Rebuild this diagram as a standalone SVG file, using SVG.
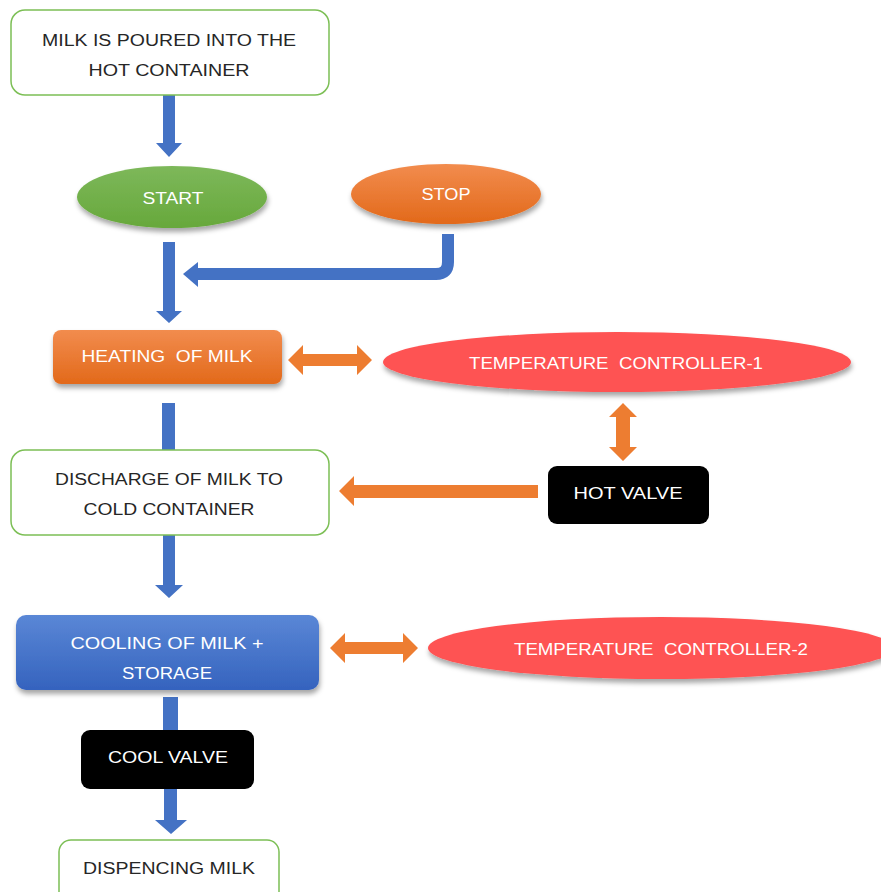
<svg xmlns="http://www.w3.org/2000/svg" width="881" height="892" viewBox="0 0 881 892">
<defs>
<style>
.t{font-family:"Liberation Sans","Open Sans",Arial,sans-serif;font-size:16px;text-anchor:middle;dominant-baseline:central;white-space:pre}
.dk{fill:#262626}
.wt{fill:#ffffff}
.wbox{fill:#ffffff;stroke:#7CBF55;stroke-width:1.5}
.blue{fill:#4472C4}
.orng{fill:#ED7D31}
</style>
<linearGradient id="gGreen" x1="0" y1="0" x2="0" y2="1"><stop offset="0" stop-color="#7DB85A"/><stop offset="1" stop-color="#67A83B"/></linearGradient>
<linearGradient id="gOrange" x1="0" y1="0" x2="0" y2="1"><stop offset="0" stop-color="#F28C4E"/><stop offset="1" stop-color="#E2691A"/></linearGradient>
<linearGradient id="gBlue" x1="0" y1="0" x2="0" y2="1"><stop offset="0" stop-color="#5A87D6"/><stop offset="1" stop-color="#3563BE"/></linearGradient>
<filter id="sh" x="-20%" y="-30%" width="140%" height="170%"><feDropShadow dx="1" dy="4" stdDeviation="2.5" flood-color="#000" flood-opacity="0.35"/></filter>
</defs>
<rect width="881" height="892" fill="#ffffff"/>

<g id="connectors">
<path class="blue" d="M163,95 H175 V143 H182 L169,157 L156,143 H163 Z"/>
<path class="blue" d="M163,242 H175 V311 H182 L169,323 L156,311 H163 Z"/>
<path d="M448,234 V262 Q448,274 436,274 H196" fill="none" stroke="#4472C4" stroke-width="12"/>
<path class="blue" d="M183,274 L198,262 L198,287 Z"/>
<rect class="blue" x="162" y="403" width="13" height="48"/>
<path class="blue" d="M163,534 H175 V585 H183 L169,598 L155,585 H163 Z"/>
<rect class="blue" x="163" y="697" width="15" height="34"/>
<path class="blue" d="M164,788 H177 V820 H187 L171,834 L155,820 H164 Z"/>
<path class="orng" d="M288,360 L303,345 V354 H357 V345 L372,360 L357,375 V366 H303 V375 Z"/>
<path class="orng" d="M623,403 L637,417 H630 V447 H637 L623,461 L609,447 H616 V417 H609 Z"/>
<path class="orng" d="M339,491 L354,476 V485 H538 V498 H354 V506 Z"/>
<path class="orng" d="M330,648 L345,633 V642 H403 V633 L418,648 L403,663 V654 H345 V663 Z"/>
</g>

<g id="n1">
<rect class="wbox" x="11" y="10" width="318" height="85" rx="14"/>
<text class="t dk" x="169" y="40" textLength="254" lengthAdjust="spacingAndGlyphs">MILK IS POURED INTO THE</text>
<text class="t dk" x="169" y="70" textLength="161" lengthAdjust="spacingAndGlyphs">HOT CONTAINER</text>
</g>

<g id="start">
<ellipse cx="172" cy="197" rx="95" ry="31" fill="url(#gGreen)" filter="url(#sh)"/>
<text class="t wt" x="173" y="198" textLength="61" lengthAdjust="spacingAndGlyphs">START</text>
</g>

<g id="stop">
<ellipse cx="446" cy="194" rx="95" ry="30" fill="url(#gOrange)" filter="url(#sh)"/>
<text class="t wt" x="446" y="194" textLength="49" lengthAdjust="spacingAndGlyphs">STOP</text>
</g>

<g id="heating">
<rect x="53" y="330" width="229" height="54" rx="8" fill="url(#gOrange)" filter="url(#sh)"/>
<text class="t wt" x="167" y="356" textLength="171" lengthAdjust="spacingAndGlyphs" xml:space="preserve">HEATING  OF MILK</text>
</g>

<g id="tc1">
<ellipse cx="617" cy="362" rx="234" ry="30" fill="#FE5252" filter="url(#sh)"/>
<text class="t wt" x="616" y="363" textLength="294" lengthAdjust="spacingAndGlyphs" xml:space="preserve">TEMPERATURE  CONTROLLER-1</text>
</g>

<g id="discharge">
<rect class="wbox" x="11" y="450" width="318" height="85" rx="14"/>
<text class="t dk" x="169" y="479" textLength="228" lengthAdjust="spacingAndGlyphs">DISCHARGE OF MILK TO</text>
<text class="t dk" x="169" y="509" textLength="171" lengthAdjust="spacingAndGlyphs">COLD CONTAINER</text>
</g>

<g id="hotvalve">
<rect x="548" y="466" width="161" height="58" rx="9" fill="#000000"/>
<text class="t wt" x="628" y="493" textLength="109" lengthAdjust="spacingAndGlyphs">HOT VALVE</text>
</g>

<g id="cooling">
<rect x="16" y="615" width="303" height="75" rx="10" fill="url(#gBlue)" filter="url(#sh)"/>
<text class="t wt" x="167" y="643" textLength="193" lengthAdjust="spacingAndGlyphs">COOLING OF MILK +</text>
<text class="t wt" x="167" y="673" textLength="90" lengthAdjust="spacingAndGlyphs">STORAGE</text>
</g>

<g id="tc2">
<ellipse cx="661" cy="648" rx="233" ry="31" fill="#FE5252" filter="url(#sh)"/>
<text class="t wt" x="661" y="649" textLength="294" lengthAdjust="spacingAndGlyphs" xml:space="preserve">TEMPERATURE  CONTROLLER-2</text>
</g>

<g id="coolvalve">
<rect x="81" y="730" width="173" height="59" rx="9" fill="#000000"/>
<text class="t wt" x="168" y="757" textLength="120" lengthAdjust="spacingAndGlyphs">COOL VALVE</text>
</g>

<g id="dispencing">
<rect class="wbox" x="59" y="840" width="220" height="70" rx="12"/>
<text class="t dk" x="169" y="868" textLength="172" lengthAdjust="spacingAndGlyphs">DISPENCING MILK</text>
</g>
</svg>
